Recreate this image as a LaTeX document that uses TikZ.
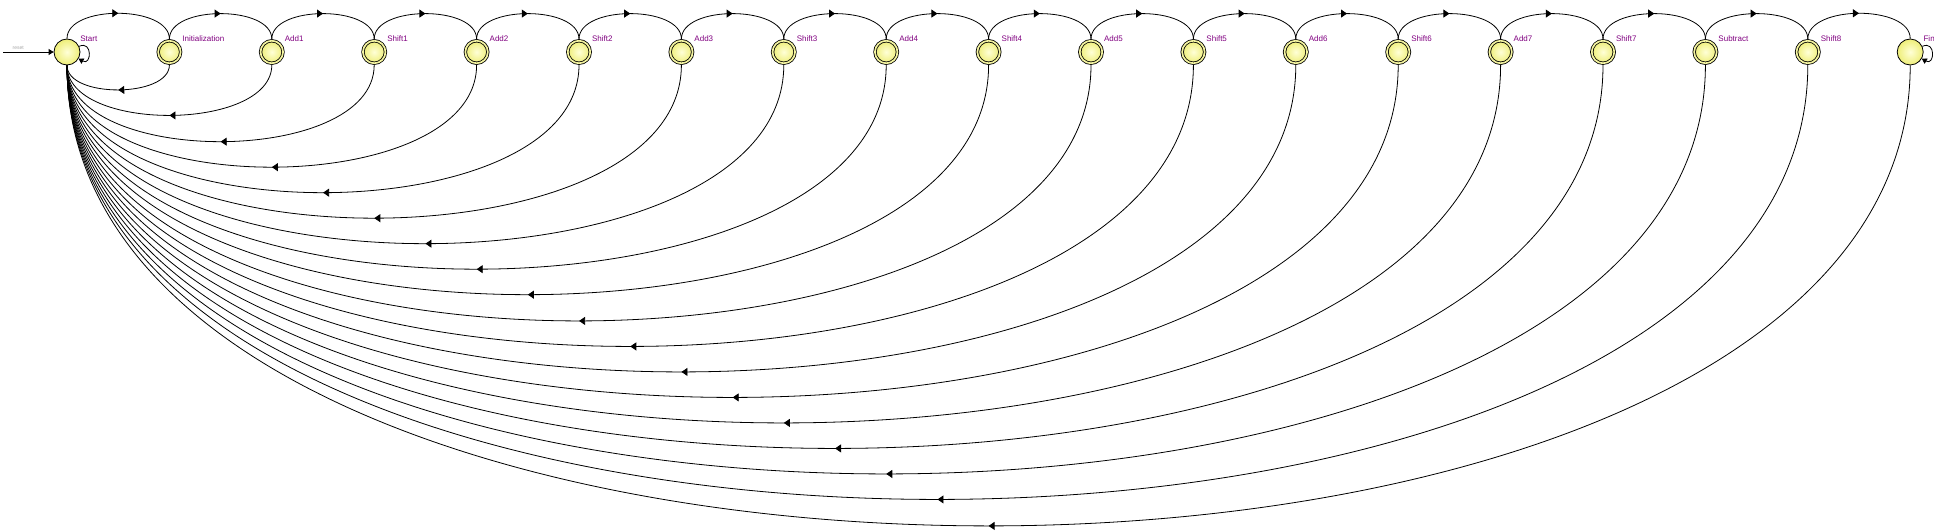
\documentclass[tikz,border=0pt]{standalone}
\usepackage{fontspec}
\setmainfont{Liberation Sans}
\usetikzlibrary{automata, positioning, arrows.meta, decorations.markings}

\definecolor{stateinner}{RGB}{255,255,215}
\definecolor{stateouter}{RGB}{238,238,120}
\definecolor{namepurple}{RGB}{128,0,128}

\begin{document}
\begin{tikzpicture}[x=1pt, y=-1pt, node distance=102.4pt, on grid, line width=0.8pt,
    >={Triangle[length=5pt, width=6pt]},
    every state/.style={draw, inner color=stateinner, outer color=stateouter, minimum size=26pt, inner sep=0pt},
    accepting by double/.style={double=stateouter!70, double distance=1.7pt, outer sep=1.7pt, minimum size=22.5pt},
    statename/.style={font=\fontsize{8}{9}\selectfont, text=namepurple, inner sep=1pt, xshift=2.5pt},
    resetname/.style={font=\fontsize{5}{6}\selectfont, text=gray!70, inner sep=1pt, yshift=1.5pt},
    midarrow/.style={postaction={decorate}, decoration={markings, mark=at position 0.5 with {\arrow{Triangle[length=6pt, width=8pt]}}}},
    toparc/.style={midarrow, out=90, in=90, looseness=0.85},
    backarc/.style={midarrow},
    selfloop/.style={->, out=25, in=-30, min distance=15pt}]
    \useasboundingbox (0,0) rectangle (1934,532);

    % States
    \node[state, label={[statename]above right:Start}] (start) at (67,52) {};
    \node[state, accepting, label={[statename]above right:Initialization}] (init) [right=of start] {};
    \node[state, accepting, label={[statename]above right:Add1}] (add1) [right=of init] {};
    \node[state, accepting, label={[statename]above right:Shift1}] (shift1) [right=of add1] {};
    \node[state, accepting, label={[statename]above right:Add2}] (add2) [right=of shift1] {};
    \node[state, accepting, label={[statename]above right:Shift2}] (shift2) [right=of add2] {};
    \node[state, accepting, label={[statename]above right:Add3}] (add3) [right=of shift2] {};
    \node[state, accepting, label={[statename]above right:Shift3}] (shift3) [right=of add3] {};
    \node[state, accepting, label={[statename]above right:Add4}] (add4) [right=of shift3] {};
    \node[state, accepting, label={[statename]above right:Shift4}] (shift4) [right=of add4] {};
    \node[state, accepting, label={[statename]above right:Add5}] (add5) [right=of shift4] {};
    \node[state, accepting, label={[statename]above right:Shift5}] (shift5) [right=of add5] {};
    \node[state, accepting, label={[statename]above right:Add6}] (add6) [right=of shift5] {};
    \node[state, accepting, label={[statename]above right:Shift6}] (shift6) [right=of add6] {};
    \node[state, accepting, label={[statename]above right:Add7}] (add7) [right=of shift6] {};
    \node[state, accepting, label={[statename]above right:Shift7}] (shift7) [right=of add7] {};
    \node[state, accepting, label={[statename]above right:Subtract}] (sub) [right=of shift7] {};
    \node[state, accepting, label={[statename]above right:Shift8}] (shift8) [right=of sub] {};
    \node[state, label={[statename]above right:Fin}] (fin) [right=of shift8] {};

    % Reset
    \coordinate (resetin) at (3,52);
    \draw[->] (resetin) -- node[resetname, pos=0.3, above] {reset} (start);

    % Forward transitions
    \path
        (start) edge [selfloop] (start)
                edge [toparc] (init)
        (init) edge [toparc] (add1)
        (add1) edge [toparc] (shift1)
        (shift1) edge [toparc] (add2)
        (add2) edge [toparc] (shift2)
        (shift2) edge [toparc] (add3)
        (add3) edge [toparc] (shift3)
        (shift3) edge [toparc] (add4)
        (add4) edge [toparc] (shift4)
        (shift4) edge [toparc] (add5)
        (add5) edge [toparc] (shift5)
        (shift5) edge [toparc] (add6)
        (add6) edge [toparc] (shift6)
        (shift6) edge [toparc] (add7)
        (add7) edge [toparc] (shift7)
        (shift7) edge [toparc] (sub)
        (sub) edge [toparc] (shift8)
        (shift8) edge [toparc] (fin)
        (fin) edge [selfloop] (fin);

    % Transitions back to Start
    \draw[backarc] (init.south) .. controls +(0,33) and +(0,33) .. (start.south);
    \draw[backarc] (add1.south) .. controls +(0,67) and +(0,67) .. (start.south);
    \draw[backarc] (shift1.south) .. controls +(0,102) and +(0,102) .. (start.south);
    \draw[backarc] (add2.south) .. controls +(0,136) and +(0,136) .. (start.south);
    \draw[backarc] (shift2.south) .. controls +(0,170) and +(0,170) .. (start.south);
    \draw[backarc] (add3.south) .. controls +(0,204) and +(0,204) .. (start.south);
    \draw[backarc] (shift3.south) .. controls +(0,238) and +(0,238) .. (start.south);
    \draw[backarc] (add4.south) .. controls +(0,272) and +(0,272) .. (start.south);
    \draw[backarc] (shift4.south) .. controls +(0,306) and +(0,306) .. (start.south);
    \draw[backarc] (add5.south) .. controls +(0,341) and +(0,341) .. (start.south);
    \draw[backarc] (shift5.south) .. controls +(0,375) and +(0,375) .. (start.south);
    \draw[backarc] (add6.south) .. controls +(0,409) and +(0,409) .. (start.south);
    \draw[backarc] (shift6.south) .. controls +(0,443) and +(0,443) .. (start.south);
    \draw[backarc] (add7.south) .. controls +(0,477) and +(0,477) .. (start.south);
    \draw[backarc] (shift7.south) .. controls +(0,511) and +(0,511) .. (start.south);
    \draw[backarc] (sub.south) .. controls +(0,545) and +(0,545) .. (start.south);
    \draw[backarc] (shift8.south) .. controls +(0,579) and +(0,579) .. (start.south);
    \draw[backarc] (fin.south) .. controls +(0,614) and +(0,614) .. (start.south);
\end{tikzpicture}
\end{document}
